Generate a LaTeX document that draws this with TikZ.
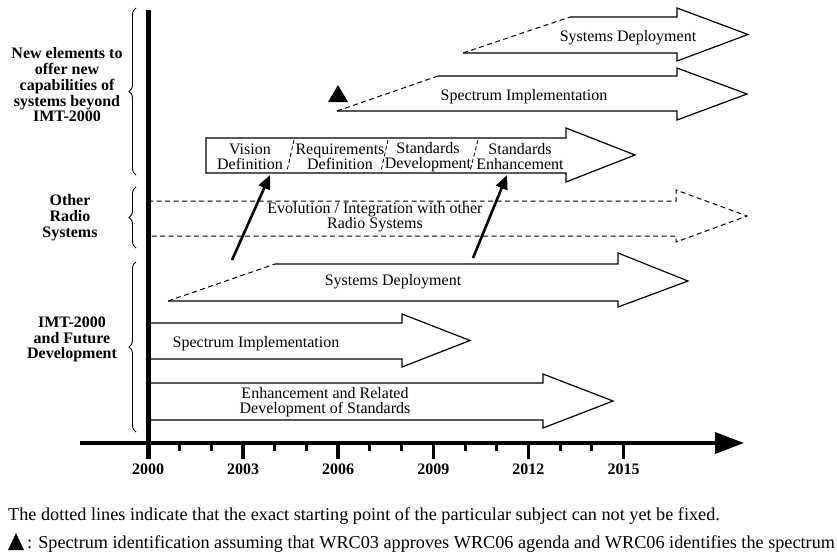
\documentclass[tikz,border=0pt]{standalone}
\usepackage{fontspec}
\setmainfont{Liberation Serif}
\usetikzlibrary{arrows.meta,decorations.pathreplacing}
\begin{document}
\begin{tikzpicture}[x=1pt,y=-1pt,
  outl/.style={line width=1.2pt, line join=miter},
  dsh/.style={line width=1pt, dash pattern=on 5pt off 3.5pt},
  divd/.style={line width=0.8pt, dash pattern=on 4pt off 2.5pt},
  lbl/.style={font=\fontsize{16}{16}\selectfont, inner sep=0pt},
  mlbl/.style={inner sep=0pt, align=center, font=\fontsize{16}{15}\selectfont},
  side/.style={inner sep=0pt, align=center, font=\bfseries\fontsize{16}{15.75}\selectfont},
  yr/.style={font=\bfseries\fontsize{16}{16}\selectfont, inner sep=0pt, anchor=base},
  foot/.style={font=\fontsize{18.2}{18}\selectfont, inner sep=0pt, anchor=base west},
  brc/.style={decorate, decoration={brace, amplitude=7pt}, line width=0.9pt},
  ptr/.style={line width=2.6pt, -{Triangle[length=14pt,width=12pt]}},
]
\useasboundingbox (0,0) rectangle (837,555);
\fill[white] (0,0) rectangle (837,555);

% upper systems deployment
\draw[outl] (570,17) -- (677,17) -- (677,8) -- (748,34.5) -- (677,61) -- (677,53) -- (463,53);
\draw[dsh] (463,53) -- (570,17);
% upper spectrum implementation
\draw[outl] (438,76) -- (677,76) -- (677,68) -- (747,94) -- (677,120) -- (677,111) -- (337,111);
\draw[dsh] (337,111) -- (438,76);
% marker
\fill (338,85) -- (348,102) -- (328,102) -- cycle;
% vision box arrow
\draw[outl] (206,138) -- (566,138) -- (566,128) -- (635,155) -- (566,182) -- (566,173) -- (206,173) -- cycle;
\draw[divd] (294,140) -- (287,171);
\draw[divd] (388,140) -- (381,171);
\draw[divd] (478,140) -- (470,171);
% other radio systems
\draw[dsh] (148,201) -- (676,201) -- (676,190) -- (747,216) -- (676,242) -- (676,236) -- (148,236);
% lower systems deployment
\draw[outl] (275,264) -- (618,264) -- (618,253) -- (688,281) -- (618,307) -- (618,301) -- (168,301);
\draw[dsh] (168,301) -- (275,264);
% lower spectrum implementation
\draw[outl] (148,323) -- (402,323) -- (402,314) -- (470,340.5) -- (402,367) -- (402,359) -- (148,359);
% enhancement
\draw[outl] (148,383) -- (543,383) -- (543,374) -- (613,401) -- (543,428) -- (543,420) -- (148,420);

% axes
\draw[line width=3.5pt, -{Triangle[length=29pt,width=21pt]}] (80,443) -- (744,443);
\foreach \i in {1,2,4,5,7,8,10,11,13,14} \draw[line width=3pt] ({148+31.7*\i},443) -- ++(0,8);
\foreach \i in {3,6,9,12,15} \draw[line width=3.5pt] ({148+31.7*\i},443) -- ++(0,16);
\draw[line width=5pt] (148,10) -- (148,459);
\foreach \i/\y in {0/2000,3/2003,6/2006,9/2009,12/2012,15/2015}
  \node[yr] (y\y) at ({148+31.7*\i},474) {\y};

% pointer arrows
\coordinate (a1s) at (232,260);
\coordinate (a1e) at (270,175);
\coordinate (a2s) at (473,258);
\coordinate (a2e) at (507,175);
\draw[ptr] (a1s) -- (a1e);
\draw[ptr] (a2s) -- (a2e);

% braces
\draw[brc] (136,175) -- (136,8);
\draw[brc] (136,248) -- (136,187);
\draw[brc] (136,432) -- (136,262);

% side labels
\node[side] (newel) at (67,85) {New elements to\\offer new\\capabilities of\\systems beyond\\IMT-2000};
\node[side] (other) at (70,217.5) {Other\\Radio\\Systems};
\node[side] (imt) at (72,339.5) {IMT-2000\\and Future\\Development};

% arrow texts
\node[lbl, anchor=base] (sd1) at (628,41) {Systems Deployment};
\node[lbl, anchor=base] (si1) at (524,100) {Spectrum Implementation};
\node[mlbl] (vis) at (250,157) {Vision\\Definition};
\node[mlbl] (req) at (340,157) {Requirements\\Definition};
\node[mlbl] (sdev) at (428,157) {Standards\\Development};
\node[mlbl] (senh) at (520,157) {Standards\\Enhancement};
\node[mlbl] (evo) at (375,217) {Evolution / Integration with other\\Radio Systems};
\node[lbl, anchor=base] (sd2) at (393,285) {Systems Deployment};
\node[lbl, anchor=base] (si2) at (256,347) {Spectrum Implementation};
\node[mlbl] (enh) at (325,402.5) {Enhancement and Related\\Development of Standards};

% footnotes
\node[foot] (fn1) at (8,520) {The dotted lines indicate that the exact starting point of the particular subject can not yet be fixed.};
\fill (16,533) -- (24,550) -- (8,550) -- cycle;
\node[foot] (fn2) at (27,548) {: Spectrum identification assuming that WRC03 approves WRC06 agenda and WRC06 identifies the spectrum};
\end{tikzpicture}
\end{document}
